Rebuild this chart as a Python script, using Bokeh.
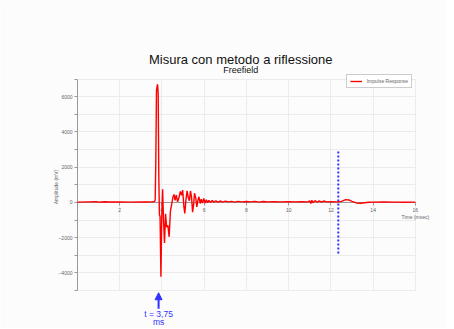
from bokeh.plotting import figure
from bokeh.models import (Range1d, FixedTicker, Label, Arrow, NormalHead,
                          Legend, LegendItem)
from bokeh.embed import file_html
from bokeh.resources import INLINE

# ---- data ----
time_ms = [0.0, 0.5, 0.9, 1.0, 1.3, 1.5, 2.0, 2.5, 3.0, 3.3, 3.55, 3.65,
           3.68, 3.71, 3.74, 3.77, 3.79, 3.82, 3.85, 3.88, 3.91, 3.95, 3.99,
           4.03, 4.07, 4.12, 4.17, 4.22, 4.28, 4.34, 4.40, 4.46, 4.52, 4.57,
           4.62, 4.68, 4.74, 4.80, 4.87, 4.93, 4.98, 5.04, 5.08, 5.14, 5.19,
           5.25, 5.30, 5.35, 5.40, 5.45, 5.50, 5.54, 5.60, 5.65, 5.70, 5.75,
           5.81, 5.86, 5.92, 5.98, 6.04, 6.10, 6.16, 6.22, 6.30, 6.38, 6.46,
           6.55, 6.65, 6.75, 6.88, 7.0, 7.15, 7.3, 7.45, 7.6, 7.8, 8.0, 8.2,
           8.4, 8.6, 8.8, 9.0, 9.3, 9.6, 10.0, 10.3, 10.6, 10.9, 11.0, 11.05,
           11.1, 11.15, 11.25, 11.35, 11.45, 11.55, 11.65, 11.8, 12.0, 12.3,
           12.5, 12.7, 12.85, 13.0, 13.2, 13.4, 13.6, 13.8, 14.0, 14.5, 15.0,
           15.5, 16.0]
amplitude_mv = [20, 30, 35, 20, 35, 25, 30, 20, 30, 25, 35, 50,
                150, 2500, 6300, 6600, 6700, 6200, 1500, -700, -800, -4220, -800,
                750, -900, -2300, -650, -1400, -1300, -1950, -500, -100, 300, 450,
                120, 420, 30, 250, 620, 400, 700, -250, -620, 200, 650,
                250, 100, 650, 300, -550, -100, 520, 250, -250, 100, 320,
                -60, 180, -40, 220, -30, 150, -10, 120, 0, 110, 10,
                90, 20, 80, 20, 70, 30, 60, 20, 60, 30, 50, 30,
                60, 20, 50, 30, 40, 30, 40, 30, 40, 30, 80, -60,
                120, -20, 100, 10, 90, 20, 80, 30, 40, 30,
                60, 160, 140, 60, -30, -50, -20, 10, 20, 30, 20,
                10, 20]

x_ticks = [2, 4, 6, 8, 10, 12, 14, 16]
y_ticks = [-4000, -2000, 0, 2000, 4000, 6000]
y_minor = [-5000, -3000, -1000, 1000, 3000, 5000, 7000]
x_bounds = (0, 16)
y_bounds = (-5000, 7000)

marker_time = 12.35
marker_span = [-2900, 2900]
arrow_time = 3.84
arrow_span = [-6030, -5122]
arrow_text = ["t = 3,75", "ms"]

title_text = "Misura con metodo a riflessione"
subtitle_text = "Freefield"
x_title = "Time (msec)"
y_title = "Amplitude (mV)"
series_name = "Impulse Response"

FONT = "Liberation Sans"
BLUE = "#3232ff"
GREY = "#666666"
GRID = "#ececec"

p = figure(frame_width=359, frame_height=283,
           x_range=Range1d(0, 17), y_range=Range1d(-7150, 8900),
           x_axis_location="above",
           output_backend="svg", toolbar_location=None,
           min_border_left=77, min_border_right=10,
           min_border_top=45, min_border_bottom=0)
p.background_fill_color = "#fcfcfc"
p.border_fill_color = "#fcfcfc"
p.outline_line_color = None

# axes
p.xaxis.fixed_location = 0
p.xaxis.bounds = x_bounds
p.yaxis.bounds = y_bounds
p.xaxis.ticker = FixedTicker(ticks=x_ticks)
p.yaxis.ticker = FixedTicker(ticks=y_ticks, minor_ticks=y_minor)
for ax in (p.xaxis, p.yaxis):
    ax.axis_line_color = "#999999"
    ax.major_tick_line_color = "#999999"
    ax.minor_tick_line_color = "#999999"
    ax.major_label_text_font = FONT
    ax.major_label_text_font_size = "5px"
    ax.major_label_text_color = GREY
p.yaxis.major_tick_in = 0
p.yaxis.major_tick_out = 3
p.yaxis.minor_tick_in = 0
p.yaxis.minor_tick_out = 3
p.yaxis.major_label_standoff = 2
p.xaxis.major_tick_in = 3
p.xaxis.major_tick_out = 0
p.xaxis.minor_tick_line_color = None
p.xaxis.major_label_standoff = -10
p.yaxis.axis_label = y_title
p.yaxis.axis_label_text_font = FONT
p.yaxis.axis_label_text_font_size = "5px"
p.yaxis.axis_label_text_font_style = "normal"
p.yaxis.axis_label_text_color = GREY
p.yaxis.axis_label_standoff = -4

p.xgrid.ticker = FixedTicker(ticks=x_ticks)
p.xgrid.cross_bounds = y_bounds
p.ygrid.cross_bounds = x_bounds
p.ygrid.bounds = y_bounds
p.xgrid.grid_line_color = GRID
p.ygrid.grid_line_color = GRID
p.ygrid.minor_grid_line_color = GRID

# series (drawn above the axis line, as in the reference)
r = p.line(time_ms, amplitude_mv, line_color="#ff0000", line_width=1.4)
r.level = "annotation"

# blue dotted marker
p.segment(x0=[marker_time], y0=[marker_span[0]], x1=[marker_time], y1=[marker_span[1]],
          line_color=BLUE, line_width=2, line_dash="2 2")

# arrow and its label
p.add_layout(Arrow(end=NormalHead(size=7, fill_color=BLUE, line_color=BLUE),
                   x_start=arrow_time, y_start=arrow_span[0],
                   x_end=arrow_time, y_end=arrow_span[1],
                   line_color=BLUE, line_width=2))
p.add_layout(Label(x=arrow_time, y=-6336, text=arrow_text[0], text_align="center",
                   text_baseline="middle", text_font=FONT, text_font_size="8.5px",
                   text_color=BLUE))
p.add_layout(Label(x=arrow_time, y=-6790, text=arrow_text[1], text_align="center",
                   text_baseline="middle", text_font=FONT, text_font_size="8.5px",
                   text_color=BLUE))

# titles
p.add_layout(Label(x=7.73, y=8128, text=title_text, text_align="center",
                   text_baseline="middle", text_font=FONT, text_font_size="13px",
                   text_color="#111111"))
p.add_layout(Label(x=7.73, y=7504, text=subtitle_text, text_align="center",
                   text_baseline="middle", text_font=FONT, text_font_size="9px",
                   text_color="#111111"))

# x axis title
p.add_layout(Label(x=16, y=-834, text=x_title, text_align="center",
                   text_baseline="middle", text_font=FONT, text_font_size="5px",
                   text_color=GREY))

# legend
legend = Legend(items=[LegendItem(label=series_name, renderers=[r])],
                location=(268.7, 240.0), orientation="vertical",
                label_text_font=FONT, label_text_font_size="5px",
                label_text_color=GREY, glyph_width=12, glyph_height=6,
                label_height=6, label_standoff=5, padding=3, margin=0,
                spacing=0, border_line_color="#999999", border_line_width=1,
                background_fill_color="#ffffff", background_fill_alpha=1.0)
p.add_layout(legend)

open("out.html", "w").write(file_html(p, INLINE))
